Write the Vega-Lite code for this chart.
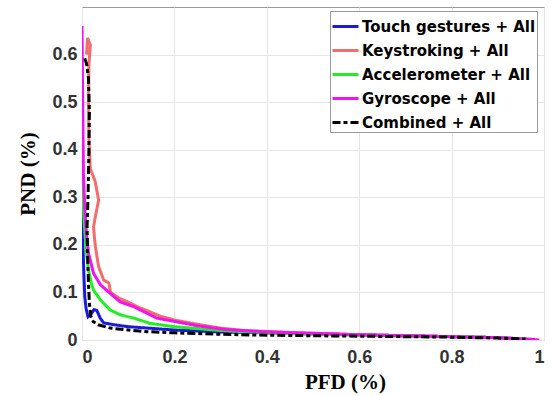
{
  "$schema": "https://vega.github.io/schema/vega-lite/v6.json",
  "width": 462,
  "height": 333,
  "autosize": {"type": "none"},
  "padding": {"left": 82, "top": 7, "right": 8, "bottom": 56},
  "background": "white",
  "config": {
    "view": {"stroke": "#9a9a9a", "strokeWidth": 1},
    "axis": {
      "domain": false,
      "ticks": false,
      "grid": true,
      "gridColor": "#e6e6e6",
      "gridWidth": 1,
      "labelFont": "Liberation Sans",
      "labelFontWeight": "bold",
      "labelFontSize": 18,
      "labelColor": "#333333",
      "titleFont": "Liberation Serif",
      "titleFontWeight": "bold",
      "titleFontSize": 21,
      "titleColor": "#000000"
    },
    "legend": {
      "orient": "none",
      "legendX": 248,
      "legendY": 4,
      "fillColor": "white",
      "strokeColor": "#9a9a9a",
      "padding": 1,
      "labelFont": "DejaVu Sans",
      "labelFontWeight": "bold",
      "labelFontSize": 15,
      "labelColor": "#000000",
      "labelLimit": 0,
      "labelOffset": 2,
      "symbolType": "stroke",
      "symbolSize": 676,
      "symbolStrokeWidth": 3,
      "rowPadding": 1,
      "title": null
    }
  },
  "data": {
    "values": [
      {"s": "Touch gestures + All", "i": 0, "x": 0.0, "y": 0.335},
      {"s": "Touch gestures + All", "i": 1, "x": 0.001, "y": 0.25},
      {"s": "Touch gestures + All", "i": 2, "x": 0.002, "y": 0.2},
      {"s": "Touch gestures + All", "i": 3, "x": 0.004, "y": 0.14},
      {"s": "Touch gestures + All", "i": 4, "x": 0.006, "y": 0.091},
      {"s": "Touch gestures + All", "i": 5, "x": 0.009, "y": 0.065},
      {"s": "Touch gestures + All", "i": 6, "x": 0.013, "y": 0.049},
      {"s": "Touch gestures + All", "i": 7, "x": 0.02, "y": 0.055},
      {"s": "Touch gestures + All", "i": 8, "x": 0.026, "y": 0.064},
      {"s": "Touch gestures + All", "i": 9, "x": 0.032, "y": 0.062},
      {"s": "Touch gestures + All", "i": 10, "x": 0.04, "y": 0.045},
      {"s": "Touch gestures + All", "i": 11, "x": 0.047, "y": 0.036},
      {"s": "Touch gestures + All", "i": 12, "x": 0.07, "y": 0.032},
      {"s": "Touch gestures + All", "i": 13, "x": 0.1, "y": 0.028},
      {"s": "Touch gestures + All", "i": 14, "x": 0.2, "y": 0.021},
      {"s": "Touch gestures + All", "i": 15, "x": 0.3, "y": 0.017},
      {"s": "Touch gestures + All", "i": 16, "x": 0.45, "y": 0.014},
      {"s": "Touch gestures + All", "i": 17, "x": 0.6, "y": 0.011},
      {"s": "Touch gestures + All", "i": 18, "x": 0.75, "y": 0.008},
      {"s": "Touch gestures + All", "i": 19, "x": 0.9, "y": 0.005},
      {"s": "Touch gestures + All", "i": 20, "x": 0.98, "y": 0.001},

      {"s": "Keystroking + All", "i": 0, "x": 0.01, "y": 0.6},
      {"s": "Keystroking + All", "i": 1, "x": 0.012, "y": 0.635},
      {"s": "Keystroking + All", "i": 2, "x": 0.018, "y": 0.62},
      {"s": "Keystroking + All", "i": 3, "x": 0.015, "y": 0.58},
      {"s": "Keystroking + All", "i": 4, "x": 0.014, "y": 0.5},
      {"s": "Keystroking + All", "i": 5, "x": 0.015, "y": 0.42},
      {"s": "Keystroking + All", "i": 6, "x": 0.018, "y": 0.36},
      {"s": "Keystroking + All", "i": 7, "x": 0.022, "y": 0.35},
      {"s": "Keystroking + All", "i": 8, "x": 0.028, "y": 0.335},
      {"s": "Keystroking + All", "i": 9, "x": 0.032, "y": 0.315},
      {"s": "Keystroking + All", "i": 10, "x": 0.036, "y": 0.294},
      {"s": "Keystroking + All", "i": 11, "x": 0.029, "y": 0.26},
      {"s": "Keystroking + All", "i": 12, "x": 0.025, "y": 0.238},
      {"s": "Keystroking + All", "i": 13, "x": 0.027, "y": 0.215},
      {"s": "Keystroking + All", "i": 14, "x": 0.029, "y": 0.196},
      {"s": "Keystroking + All", "i": 15, "x": 0.036, "y": 0.154},
      {"s": "Keystroking + All", "i": 16, "x": 0.047, "y": 0.126},
      {"s": "Keystroking + All", "i": 17, "x": 0.058, "y": 0.12},
      {"s": "Keystroking + All", "i": 18, "x": 0.062, "y": 0.1},
      {"s": "Keystroking + All", "i": 19, "x": 0.08, "y": 0.088},
      {"s": "Keystroking + All", "i": 20, "x": 0.097, "y": 0.081},
      {"s": "Keystroking + All", "i": 21, "x": 0.12, "y": 0.07},
      {"s": "Keystroking + All", "i": 22, "x": 0.145, "y": 0.06},
      {"s": "Keystroking + All", "i": 23, "x": 0.17, "y": 0.05},
      {"s": "Keystroking + All", "i": 24, "x": 0.2, "y": 0.042},
      {"s": "Keystroking + All", "i": 25, "x": 0.25, "y": 0.033},
      {"s": "Keystroking + All", "i": 26, "x": 0.3, "y": 0.025},
      {"s": "Keystroking + All", "i": 27, "x": 0.35, "y": 0.02},
      {"s": "Keystroking + All", "i": 28, "x": 0.45, "y": 0.016},
      {"s": "Keystroking + All", "i": 29, "x": 0.6, "y": 0.011},
      {"s": "Keystroking + All", "i": 30, "x": 0.8, "y": 0.007},
      {"s": "Keystroking + All", "i": 31, "x": 0.9, "y": 0.005},
      {"s": "Keystroking + All", "i": 32, "x": 0.97, "y": 0.001},

      {"s": "Accelerometer + All", "i": 0, "x": 0.0, "y": 0.385},
      {"s": "Accelerometer + All", "i": 1, "x": 0.002, "y": 0.32},
      {"s": "Accelerometer + All", "i": 2, "x": 0.004, "y": 0.26},
      {"s": "Accelerometer + All", "i": 3, "x": 0.007, "y": 0.217},
      {"s": "Accelerometer + All", "i": 4, "x": 0.01, "y": 0.18},
      {"s": "Accelerometer + All", "i": 5, "x": 0.014, "y": 0.147},
      {"s": "Accelerometer + All", "i": 6, "x": 0.02, "y": 0.12},
      {"s": "Accelerometer + All", "i": 7, "x": 0.025, "y": 0.105},
      {"s": "Accelerometer + All", "i": 8, "x": 0.04, "y": 0.084},
      {"s": "Accelerometer + All", "i": 9, "x": 0.061, "y": 0.063},
      {"s": "Accelerometer + All", "i": 10, "x": 0.083, "y": 0.053},
      {"s": "Accelerometer + All", "i": 11, "x": 0.112, "y": 0.046},
      {"s": "Accelerometer + All", "i": 12, "x": 0.147, "y": 0.035},
      {"s": "Accelerometer + All", "i": 13, "x": 0.2, "y": 0.028},
      {"s": "Accelerometer + All", "i": 14, "x": 0.3, "y": 0.02},
      {"s": "Accelerometer + All", "i": 15, "x": 0.4, "y": 0.015},
      {"s": "Accelerometer + All", "i": 16, "x": 0.5, "y": 0.012},
      {"s": "Accelerometer + All", "i": 17, "x": 0.6, "y": 0.01},
      {"s": "Accelerometer + All", "i": 18, "x": 0.7, "y": 0.008},
      {"s": "Accelerometer + All", "i": 19, "x": 0.8, "y": 0.007},
      {"s": "Accelerometer + All", "i": 20, "x": 0.9, "y": 0.005},
      {"s": "Accelerometer + All", "i": 21, "x": 0.96, "y": 0.002},

      {"s": "Gyroscope + All", "i": 0, "x": 0.0, "y": 0.66},
      {"s": "Gyroscope + All", "i": 1, "x": 0.001, "y": 0.55},
      {"s": "Gyroscope + All", "i": 2, "x": 0.002, "y": 0.45},
      {"s": "Gyroscope + All", "i": 3, "x": 0.003, "y": 0.35},
      {"s": "Gyroscope + All", "i": 4, "x": 0.005, "y": 0.3},
      {"s": "Gyroscope + All", "i": 5, "x": 0.007, "y": 0.26},
      {"s": "Gyroscope + All", "i": 6, "x": 0.01, "y": 0.22},
      {"s": "Gyroscope + All", "i": 7, "x": 0.014, "y": 0.183},
      {"s": "Gyroscope + All", "i": 8, "x": 0.025, "y": 0.14},
      {"s": "Gyroscope + All", "i": 9, "x": 0.04, "y": 0.116},
      {"s": "Gyroscope + All", "i": 10, "x": 0.061, "y": 0.098},
      {"s": "Gyroscope + All", "i": 11, "x": 0.083, "y": 0.08},
      {"s": "Gyroscope + All", "i": 12, "x": 0.112, "y": 0.07},
      {"s": "Gyroscope + All", "i": 13, "x": 0.133, "y": 0.06},
      {"s": "Gyroscope + All", "i": 14, "x": 0.162, "y": 0.046},
      {"s": "Gyroscope + All", "i": 15, "x": 0.2, "y": 0.039},
      {"s": "Gyroscope + All", "i": 16, "x": 0.25, "y": 0.03},
      {"s": "Gyroscope + All", "i": 17, "x": 0.31, "y": 0.022},
      {"s": "Gyroscope + All", "i": 18, "x": 0.4, "y": 0.017},
      {"s": "Gyroscope + All", "i": 19, "x": 0.5, "y": 0.014},
      {"s": "Gyroscope + All", "i": 20, "x": 0.6, "y": 0.011},
      {"s": "Gyroscope + All", "i": 21, "x": 0.7, "y": 0.009},
      {"s": "Gyroscope + All", "i": 22, "x": 0.8, "y": 0.007},
      {"s": "Gyroscope + All", "i": 23, "x": 0.9, "y": 0.005},
      {"s": "Gyroscope + All", "i": 24, "x": 0.99, "y": 0.0},

      {"s": "Combined +  All", "i": 0, "x": 0.006, "y": 0.592},
      {"s": "Combined +  All", "i": 1, "x": 0.01, "y": 0.58},
      {"s": "Combined +  All", "i": 2, "x": 0.014, "y": 0.55},
      {"s": "Combined +  All", "i": 3, "x": 0.016, "y": 0.48},
      {"s": "Combined +  All", "i": 4, "x": 0.015, "y": 0.4},
      {"s": "Combined +  All", "i": 5, "x": 0.013, "y": 0.3},
      {"s": "Combined +  All", "i": 6, "x": 0.011, "y": 0.24},
      {"s": "Combined +  All", "i": 7, "x": 0.012, "y": 0.18},
      {"s": "Combined +  All", "i": 8, "x": 0.014, "y": 0.12},
      {"s": "Combined +  All", "i": 9, "x": 0.016, "y": 0.077},
      {"s": "Combined +  All", "i": 10, "x": 0.019, "y": 0.05},
      {"s": "Combined +  All", "i": 11, "x": 0.024, "y": 0.039},
      {"s": "Combined +  All", "i": 12, "x": 0.035, "y": 0.032},
      {"s": "Combined +  All", "i": 13, "x": 0.061, "y": 0.025},
      {"s": "Combined +  All", "i": 14, "x": 0.13, "y": 0.018},
      {"s": "Combined +  All", "i": 15, "x": 0.2, "y": 0.015},
      {"s": "Combined +  All", "i": 16, "x": 0.3, "y": 0.012},
      {"s": "Combined +  All", "i": 17, "x": 0.4, "y": 0.01},
      {"s": "Combined +  All", "i": 18, "x": 0.6, "y": 0.008},
      {"s": "Combined +  All", "i": 19, "x": 0.8, "y": 0.006},
      {"s": "Combined +  All", "i": 20, "x": 0.9, "y": 0.004},
      {"s": "Combined +  All", "i": 21, "x": 0.96, "y": 0.002}
    ]
  },
  "mark": {"type": "line", "strokeWidth": 3, "clip": true},
  "encoding": {
    "x": {
      "field": "x", "type": "quantitative",
      "scale": {"domain": [0, 1], "nice": false},
      "axis": {"values": [0, 0.2, 0.4, 0.6, 0.8, 1], "format": "~g", "title": "PFD (%)", "labelPadding": 8, "titlePadding": 5, "titleX": 263}
    },
    "y": {
      "field": "y", "type": "quantitative",
      "scale": {"domain": [0, 0.7], "nice": false},
      "axis": {"values": [0, 0.1, 0.2, 0.3, 0.4, 0.5, 0.6], "format": "~g", "title": "PND (%)", "labelPadding": 5, "titlePadding": 13}
    },
    "color": {
      "field": "s", "type": "nominal",
      "scale": {
        "domain": ["Touch gestures + All", "Keystroking + All", "Accelerometer + All", "Gyroscope + All", "Combined +  All"],
        "range": ["#1a1adb", "#f26d6d", "#22ee22", "#f012f0", "#000000"]
      },
      "legend": {"title": null}
    },
    "strokeDash": {
      "field": "s", "type": "nominal",
      "scale": {
        "domain": ["Touch gestures + All", "Keystroking + All", "Accelerometer + All", "Gyroscope + All", "Combined +  All"],
        "range": [[1, 0], [1, 0], [1, 0], [1, 0], [8, 3, 4, 3]]
      },
      "legend": {"title": null}
    },
    "order": {"field": "i", "type": "quantitative"}
  }
}
